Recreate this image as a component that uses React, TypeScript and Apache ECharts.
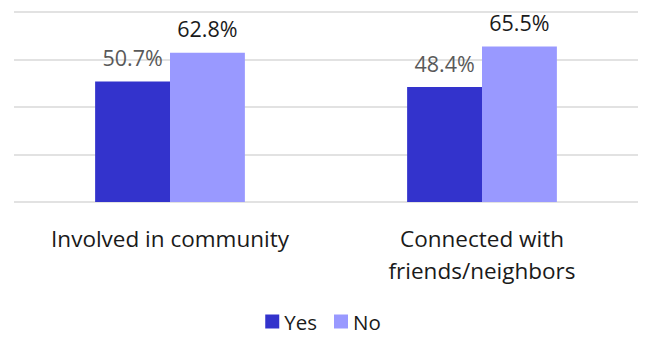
import React, { useEffect, useRef } from "react";
import * as echarts from "echarts";

const categories = ["Involved in community", "Connected with\nfriends/neighbors"];
const yesValues = [50.7, 48.4];
const noValues = [62.8, 65.5];
const seriesNames = ["Yes", "No"];

export default function App() {
  const ref = useRef<HTMLDivElement>(null);
  useEffect(() => {
    document.body.style.margin = "0";
    const chart = echarts.init(ref.current!, null, { renderer: "svg" });
    const font = "'Open Sans', 'Noto Sans', sans-serif";
    chart.setOption({
      animation: false,
      textStyle: { fontFamily: font },
      grid: { left: 14, right: 8, top: 12, bottom: 135 },
      legend: {
        data: seriesNames,
        top: 311,
        left: "center",
        padding: 0,
        itemWidth: 14,
        itemHeight: 14,
        itemGap: 17,
        icon: "rect",
        textStyle: { fontSize: 20.5, lineHeight: 21, color: "#1a1a1a", fontFamily: font },
      },
      xAxis: {
        type: "category",
        data: categories,
        axisLine: { show: false },
        axisTick: { show: false },
        axisLabel: {
          margin: 20,
          fontSize: 22.5,
          lineHeight: 32,
          color: "#1a1a1a",
          fontFamily: font,
          interval: 0,
        },
      },
      yAxis: {
        type: "value",
        min: 0,
        max: 80,
        interval: 20,
        axisLabel: { show: false },
        axisLine: { show: false },
        axisTick: { show: false },
        splitLine: { lineStyle: { color: "#d9d9d9", width: 1.5 } },
      },
      series: [
        {
          name: seriesNames[0],
          type: "bar",
          data: yesValues,
          barGap: "0%",
          barCategoryGap: "52%",
          itemStyle: { color: "#3333CC" },
          label: {
            show: true,
            position: "top",
            distance: 13,
            formatter: "{c}%",
            fontSize: 21.5,
            color: "#595959",
            fontFamily: font,
          },
        },
        {
          name: seriesNames[1],
          type: "bar",
          data: noValues,
          barGap: "0%",
          barCategoryGap: "52%",
          itemStyle: { color: "#9999FF" },
          label: {
            show: true,
            position: "top",
            distance: 13,
            formatter: "{c}%",
            fontSize: 21.5,
            color: "#1a1a1a",
            fontFamily: font,
          },
        },
      ],
    });
    return () => chart.dispose();
  }, []);
  return <div ref={ref} style={{ width: 646, height: 337 }} />;
}
